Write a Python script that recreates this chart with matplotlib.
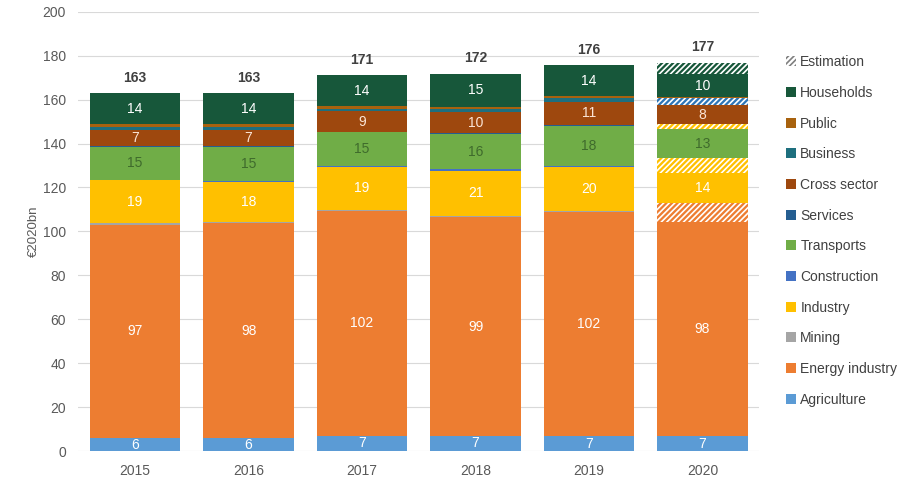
import matplotlib
matplotlib.use("Agg")
import matplotlib.pyplot as plt
from matplotlib.patches import Patch
import numpy as np

plt.rcParams['font.family'] = ['Liberation Sans', 'DejaVu Sans']
plt.rcParams['hatch.linewidth'] = 1.2

years = ['2015', '2016', '2017', '2018', '2019', '2020']

# stacking order, bottom to top
categories = ['Agriculture', 'Energy industry', 'Mining', 'Industry', 'Construction',
              'Transports', 'Services', 'Cross sector', 'Business', 'Public', 'Households']
colors = ['#5B9BD5', '#ED7D31', '#A5A5A5', '#FFC000', '#4472C4',
          '#70AD47', '#255E91', '#9E480E', '#1E6F7E', '#A8620E', '#17573A']
label_colors = {'Agriculture': 'white', 'Energy industry': 'white', 'Industry': 'white',
                'Transports': '#3F6B2C', 'Cross sector': '#FBE5D6', 'Households': 'white'}

agriculture = [6.0, 6.0, 7.0, 7.0, 6.9, 6.8]
energy = [97.1, 97.7, 102.4, 99.4, 101.8, 97.7]
mining = [0.9, 0.8, 0.5, 0.5, 0.4, 0.0]
industry = [19.2, 18.2, 19.4, 20.8, 20.1, 13.7]
construction = [0.3, 0.4, 0.5, 0.5, 0.5, 0.0]
transports = [14.9, 15.2, 15.3, 16.2, 18.4, 13.4]
services = [0.4, 0.4, 0.3, 0.3, 0.3, 0.0]
cross_sector = [7.3, 7.3, 9.2, 9.7, 10.6, 8.4]
business = [1.3, 1.3, 1.3, 1.3, 1.6, 0.0]
public = [1.4, 1.4, 1.0, 0.8, 0.8, 0.6]
households = [14.2, 14.3, 14.3, 15.3, 14.4, 10.4]

# estimated parts (only 2020), drawn hatched on top of each sector
est_2020 = [0.0, 8.3, 0.0, 6.8, 0.0, 0.0, 2.3, 0.0, 3.2, 0.0, 5.2]
est_colors = ['#5B9BD5', '#ED7D31', '#A5A5A5', '#FFC000', '#4472C4',
              '#70AD47', '#FFC000', '#9E480E', '#2E75B6', '#A8620E', '#17573A']

values = np.array([agriculture, energy, mining, industry, construction, transports,
                   services, cross_sector, business, public, households])
est = np.zeros_like(values)
est[:, -1] = est_2020

fig = plt.figure(figsize=(9.13, 4.83), dpi=100)
ax = fig.add_axes([0.0858, 0.066, 0.7458, 0.9098])

x = np.arange(len(years))
width = 0.8
bottom = np.zeros(len(years))
for i, cat in enumerate(categories):
    ax.bar(x, values[i], width, bottom=bottom, color=colors[i], lw=0, zorder=3)
    if cat in label_colors:
        for j in range(len(years)):
            ax.text(x[j], bottom[j] + values[i][j] / 2, f"{values[i][j]:.0f}",
                    ha='center', va='center', fontsize=10, color=label_colors[cat], zorder=4)
    bottom += values[i]
    if est[i].any():
        ax.bar(x, est[i], width, bottom=bottom, color=est_colors[i], edgecolor='white',
               hatch='//////', lw=0, zorder=3)
        bottom += est[i]

for j in range(len(years)):
    ax.annotate(f"{bottom[j]:.0f}", (x[j], bottom[j]), xytext=(0, 6), textcoords='offset points',
                ha='center', va='bottom', fontsize=10, fontweight='bold', color='#404040')

ax.set_xlim(-0.5, len(years) - 0.5)
ax.set_ylim(0, 200)
ax.set_yticks(np.arange(0, 201, 20))
ax.set_xticks(x)
ax.set_xticklabels(years)
ax.grid(axis='y', color='#D9D9D9', lw=0.8, zorder=0)
ax.tick_params(length=0, labelsize=10, colors='#595959')
ax.tick_params(axis='x', pad=9)
ax.tick_params(axis='y', pad=9)
for s in ax.spines.values():
    s.set_visible(False)
ax.set_ylabel('€2020bn', fontsize=9.5, color='#595959', labelpad=2)

handles = [Patch(facecolor='white', edgecolor='#7F7F7F', hatch='//////', lw=0)]
labels = ['Estimation']
for i in range(len(categories) - 1, -1, -1):
    handles.append(Patch(facecolor=colors[i], lw=0))
    labels.append(categories[i])
fig.legend(handles, labels, loc='upper left', bbox_to_anchor=(0.853, 0.9), frameon=False,
           fontsize=10, handlelength=0.75, handleheight=0.75, handletextpad=0.3,
           labelspacing=1.2, borderpad=0, labelcolor='#404040')

fig.savefig('out.png', dpi=100)
